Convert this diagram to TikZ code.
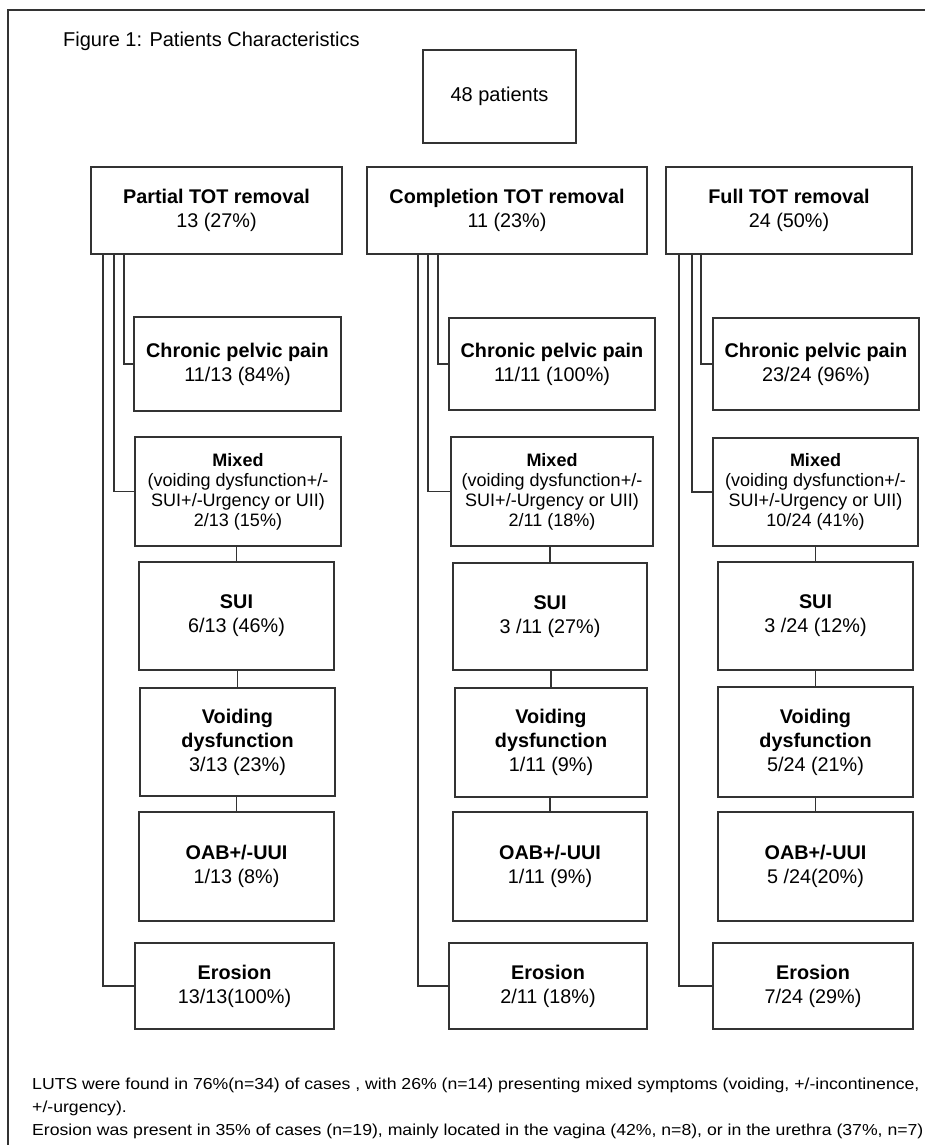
\documentclass[tikz,border=0pt]{standalone}
\usepackage{fontspec}
\setmainfont{Liberation Sans}
\newfontfamily\notefont[FakeStretch=1.11]{Liberation Sans}
\newcommand{\mkbox}[7][]{\node[box,#1,minimum width={(#5-#3)*1pt},minimum height={(#6-#4)*1pt}] (#2) at ({(#3+#5)/2},{(#4+#6)/2}) {#7};}
\begin{document}
\begin{tikzpicture}[x=1pt,y=-1pt,
  box/.style={draw=black!80, line width=1.3pt, fill=white, inner sep=0pt, outer sep=0pt, align=center, font=\fontsize{19.8}{24}\selectfont},
  mixbox/.style={font=\fontsize{18}{20}\selectfont},
  link/.style={draw=black!80, line width=1.1pt},
  note/.style={anchor=base west, inner sep=0pt, font=\notefont\fontsize{15.9}{23}\selectfont}]
\useasboundingbox (0,0) rectangle (925,1145);
% frame
\coordinate (frTR) at (925,10);
\coordinate (frTL) at (8,10);
\coordinate (frBL) at (8,1145);
\draw[link] (frTR) -- (frTL) -- (frBL);
% title
\node[anchor=base west, inner sep=0pt, font=\fontsize{20}{24}\selectfont] (title) at (63,46.5) {Figure 1: Patients Characteristics};
% top
\mkbox[font=\fontsize{20}{24}\selectfont]{top}{423}{50}{576}{143}{48 patients}
% column 1
\mkbox{p1}{91}{167}{342}{254}{\textbf{Partial TOT removal}\\13 (27\%)}
\mkbox{c1}{134}{317}{341}{411}{\textbf{Chronic pelvic pain}\\11/13 (84\%)}
\mkbox[mixbox]{m1}{135}{437}{341}{546}{\textbf{Mixed}\\(voiding dysfunction+/-\\SUI+/-Urgency or UII)\\2/13 (15\%)}
\mkbox{s1}{139}{562}{334}{670}{\textbf{SUI}\\6/13 (46\%)}
\mkbox{v1}{140}{688}{335}{796}{\textbf{Voiding}\\\textbf{dysfunction}\\3/13 (23\%)}
\mkbox{o1}{139}{812}{334}{921}{\textbf{OAB+/-UUI}\\1/13 (8\%)}
\mkbox{e1}{135}{943}{334}{1029}{\textbf{Erosion}\\13/13(100\%)}
% column 2
\mkbox{p2}{367}{167}{647}{254}{\textbf{Completion TOT removal}\\11 (23\%)}
\mkbox{c2}{449}{318}{655}{410}{\textbf{Chronic pelvic pain}\\11/11 (100\%)}
\mkbox[mixbox]{m2}{451}{437}{653}{546}{\textbf{Mixed}\\(voiding dysfunction+/-\\SUI+/-Urgency or UII)\\2/11 (18\%)}
\mkbox{s2}{453}{563}{647}{670}{\textbf{SUI}\\3 /11 (27\%)}
\mkbox{v2}{455}{688}{647}{797}{\textbf{Voiding}\\\textbf{dysfunction}\\1/11 (9\%)}
\mkbox{o2}{453}{812}{647}{921}{\textbf{OAB+/-UUI}\\1/11 (9\%)}
\mkbox{e2}{449}{943}{647}{1029}{\textbf{Erosion}\\2/11 (18\%)}
% column 3
\mkbox{p3}{666}{167}{912}{254}{\textbf{Full TOT removal}\\24 (50\%)}
\mkbox{c3}{713}{318}{919}{410}{\textbf{Chronic pelvic pain}\\23/24 (96\%)}
\mkbox[mixbox]{m3}{713}{438}{918}{546}{\textbf{Mixed}\\(voiding dysfunction+/-\\SUI+/-Urgency or UII)\\10/24 (41\%)}
\mkbox{s3}{718}{562}{913}{670}{\textbf{SUI}\\3 /24 (12\%)}
\mkbox{v3}{718}{687}{913}{797}{\textbf{Voiding}\\\textbf{dysfunction}\\5/24 (21\%)}
\mkbox{o3}{718}{812}{913}{921}{\textbf{OAB+/-UUI}\\5 /24(20\%)}
\mkbox{e3}{713}{943}{913}{1029}{\textbf{Erosion}\\7/24 (29\%)}
% branch connectors
\draw[link] ([xshift=12pt]p1.south west) |- (e1.west);
\draw[link] ([xshift=23pt]p1.south west) |- (m1.west);
\draw[link] ([xshift=33pt]p1.south west) |- (c1.west);
\draw[link] ([xshift=51pt]p2.south west) |- (e2.west);
\draw[link] ([xshift=61pt]p2.south west) |- (m2.west);
\draw[link] ([xshift=71pt]p2.south west) |- (c2.west);
\draw[link] ([xshift=13pt]p3.south west) |- (e3.west);
\draw[link] ([xshift=26pt]p3.south west) |- (m3.west);
\draw[link] ([xshift=35pt]p3.south west) |- (c3.west);
% stacked connectors
\foreach \k in {1,2,3}{
  \draw[link] (s\k.north |- m\k.south) -- (s\k.north);
  \draw[link] (v\k.north |- s\k.south) -- (v\k.north);
  \draw[link] (o\k.north |- v\k.south) -- (o\k.north);
}
% notes
\node[note] (n1) at (32,1089) {LUTS were found in 76\%(n=34) of cases , with 26\% (n=14) presenting mixed symptoms (voiding, +/-incontinence,};
\node[note] (n2) at (32,1112) {+/-urgency).};
\node[note] (n3) at (32,1135) {Erosion was present in 35\% of cases (n=19), mainly located in the vagina (42\%, n=8), or in the urethra (37\%, n=7)};
\end{tikzpicture}
\end{document}
